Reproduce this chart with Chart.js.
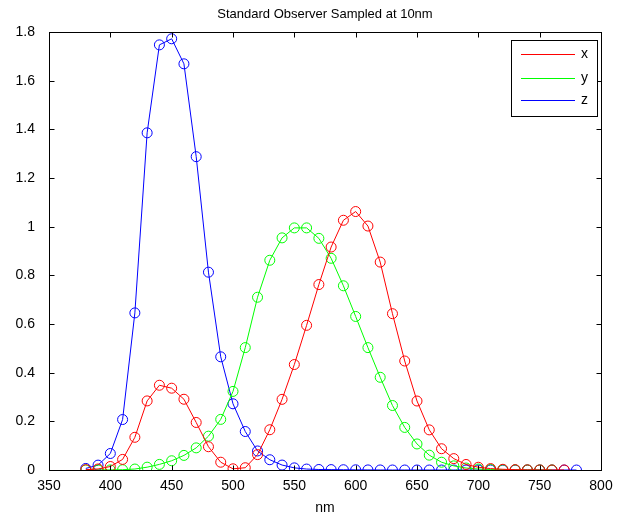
<!DOCTYPE html>
<html><head><meta charset="utf-8">
<script src="https://cdn.jsdelivr.net/npm/chart.js@4"></script>
<style>html,body{margin:0;padding:0;background:#fff}#wrap{width:625px;height:517px}</style>
</head><body><div id="wrap"><canvas id="c" width="625" height="517"></canvas></div>
<script>
const titleText = "Standard Observer Sampled at 10nm";
const xLabel = "nm";
const wlX = [380,390,400,410,420,430,440,450,460,470,480,490,500,510,520,530,540,550,560,570,580,590,600,610,620,630,640,650,660,670,680,690,700,710,720,730,740,750,760,770];
const xBar = [0.001368,0.004243,0.01431,0.04351,0.13438,0.2839,0.34828,0.3362,0.2908,0.19536,0.09564,0.03201,0.0049,0.0093,0.06327,0.1655,0.2904,0.43345,0.5945,0.7621,0.9163,1.0263,1.0622,1.0026,0.85445,0.6424,0.4479,0.2835,0.1649,0.0874,0.04677,0.0227,0.011359,0.00579,0.002899,0.00144,0.00069,0.000332,0.000166,0.000083];
const wlY = [380,390,400,410,420,430,440,450,460,470,480,490,500,510,520,530,540,550,560,570,580,590,600,610,620,630,640,650,660,670,680,690,700,710,720,730,740,750,760];
const yBar = [0.000039,0.00012,0.000396,0.00121,0.004,0.0116,0.023,0.038,0.06,0.09098,0.13902,0.20802,0.323,0.503,0.71,0.862,0.954,0.99495,0.995,0.952,0.87,0.757,0.631,0.503,0.381,0.265,0.175,0.107,0.061,0.032,0.017,0.00821,0.004102,0.002091,0.001047,0.00052,0.000249,0.00012,0.00006];
const wlZ = [380,390,400,410,420,430,440,450,460,470,480,490,500,510,520,530,540,550,560,570,580,590,600,610,620,630,640,650,660,670,680,690,700,710,720,730,740,750,760,770,780];
const zBar = [0.00645,0.02005,0.06785,0.2074,0.6456,1.3856,1.74706,1.77211,1.6692,1.28764,0.81295,0.46518,0.272,0.1582,0.07825,0.04216,0.0203,0.00875,0.0039,0.0021,0.00165,0.0011,0.0008,0.00034,0.00019,0.00005,0.00002,0,0,0,0,0,0,0,0,0,0,0,0,0,0];
const seriesNames = ["x","y","z"];
const seriesColors = ["#ff0000","#00ff00","#0000ff"];

function pts(xs, ys){ return xs.map((v,i)=>({x:v,y:ys[i]})); }
const FONT = "Liberation Sans, Arial, sans-serif";

const framePlugin = {
  id:'frame',
  afterDraw(chart){
    const ctx = chart.ctx, a = chart.chartArea;
    const xs = chart.scales.x, ys = chart.scales.y;
    ctx.save();
    ctx.strokeStyle = '#000'; ctx.lineWidth = 1;
    const L = Math.round(a.left)+0.5, R = Math.round(a.right)+0.5, T = Math.round(a.top)+0.5, B = Math.round(a.bottom)+0.5;
    ctx.strokeRect(L, T, R-L, B-T);
    ctx.beginPath();
    xs.ticks.forEach(t=>{
      const p = Math.round(xs.getPixelForValue(t.value))+0.5;
      ctx.moveTo(p,B); ctx.lineTo(p,B-5);
      ctx.moveTo(p,T); ctx.lineTo(p,T+5);
    });
    ys.ticks.forEach(t=>{
      const p = Math.round(ys.getPixelForValue(t.value))+0.5;
      ctx.moveTo(L,p); ctx.lineTo(L+5,p);
      ctx.moveTo(R,p); ctx.lineTo(R-5,p);
    });
    ctx.stroke();
    // title
    ctx.fillStyle = '#000';
    ctx.font = '13px ' + FONT;
    ctx.textAlign = 'center'; ctx.textBaseline = 'middle';
    ctx.fillText(titleText, (a.left+a.right)/2, 14);
    // legend
    const lx = 511.5, ly = 40.5, lw = 86, lh = 76;
    ctx.fillStyle = '#fff';
    ctx.fillRect(lx, ly, lw, lh);
    ctx.strokeStyle = '#000';
    ctx.strokeRect(lx, ly, lw, lh);
    const rows = [54, 78, 100];
    ctx.font = '14px ' + FONT;
    ctx.textAlign = 'left';
    seriesNames.forEach((n,i)=>{
      ctx.strokeStyle = seriesColors[i];
      ctx.beginPath(); ctx.moveTo(521, rows[i]+0.5); ctx.lineTo(575, rows[i]+0.5); ctx.stroke();
      ctx.fillStyle = '#000';
      ctx.fillText(n, 581, rows[i]);
    });
    ctx.restore();
  }
};

const ds = [pts(wlX,xBar), pts(wlY,yBar), pts(wlZ,zBar)].map((d,i)=>({
  label: seriesNames[i], data: d,
  borderColor: seriesColors[i], backgroundColor: 'rgba(0,0,0,0)',
  borderWidth: 1, pointRadius: 5, pointHoverRadius: 5,
  pointBorderColor: seriesColors[i], pointBackgroundColor: 'rgba(0,0,0,0)',
  pointBorderWidth: 1, tension: 0, fill: false
}));

new Chart(document.getElementById('c'), {
  type: 'line',
  data: { datasets: ds },
  options: {
    responsive: false, animation: false, devicePixelRatio: 1,
    layout: { padding: { top: 32, right: 24, left: 0, bottom: 0 } },
    plugins: { legend: { display:false }, tooltip: { enabled:false }, title: { display:false } },
    scales: {
      x: {
        type: 'linear', min: 350, max: 800,
        ticks: { stepSize: 50, color:'#000', font:{ family: FONT, size: 14 }, padding: 0, maxRotation:0 },
        grid: { display:false }, border: { display:false },
        title: { display:true, text: xLabel, color:'#000', font:{ family: FONT, size: 14 }, padding: {top: 4, bottom: 0} },
        afterFit(s){ s.height = 47; }
      },
      y: {
        min: 0, max: 1.8,
        ticks: { stepSize: 0.2, color:'#000', font:{ family: FONT, size: 14 }, padding: 6,
          callback: v => String(parseFloat(v.toFixed(1))) },
        grid: { display:false }, border: { display:false },
        afterFit(s){ s.width = 49; }
      }
    }
  },
  plugins: [framePlugin]
});
</script></body></html>
